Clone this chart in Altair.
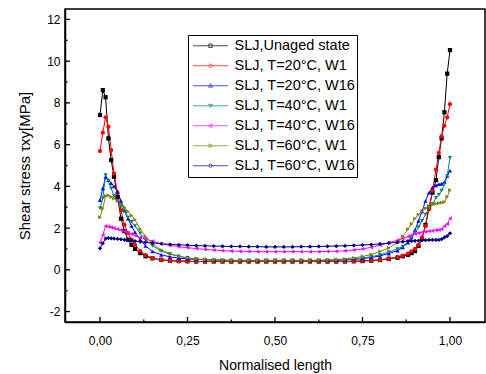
import altair as alt
import pandas as pd

# ---------------- data ----------------
x_left = [0, 0.008, 0.016, 0.024, 0.032, 0.04, 0.05, 0.06, 0.07, 0.08, 0.09, 0.1, 0.115, 0.13, 0.15]
x_mid = [0.175, 0.2, 0.225, 0.25, 0.275, 0.3, 0.325, 0.35, 0.375, 0.4, 0.425, 0.45, 0.475, 0.5,
         0.525, 0.55, 0.575, 0.6, 0.625, 0.65, 0.675, 0.7, 0.725, 0.75, 0.775, 0.8, 0.825]
x_right = [0.85, 0.865, 0.88, 0.89, 0.9, 0.91, 0.92, 0.93, 0.94, 0.95, 0.96, 0.968, 0.976, 0.984, 0.992, 1.0]
x_vals = x_left + x_mid + x_right

series_names = ["SLJ,Unaged state", "SLJ, T=20°C, W1", "SLJ, T=20°C, W16", "SLJ, T=40°C, W1",
                "SLJ, T=40°C, W16", "SLJ, T=60°C, W1", "SLJ, T=60°C, W16"]

unaged = ([7.42, 8.61, 8.27, 6.30, 5.26, 4.46, 3.50, 2.45, 1.85, 1.45, 1.20, 1.00, 0.80, 0.65, 0.55]
          + [0.48, 0.44, 0.42, 0.41] + [0.40] * 18 + [0.41, 0.42, 0.44, 0.47, 0.53]
          + [0.58, 0.65, 0.72, 0.80, 0.90, 1.15, 1.50, 2.15, 3.00, 3.70, 4.30, 5.40, 6.30, 7.55, 9.40, 10.53])
t20_w1 = ([5.69, 6.57, 7.31, 6.86, 5.74, 4.62, 3.70, 2.85, 2.15, 1.75, 1.45, 1.20, 0.90, 0.70, 0.56]
          + [0.48, 0.44, 0.42, 0.41] + [0.40] * 18 + [0.41, 0.43, 0.45, 0.48, 0.54]
          + [0.62, 0.68, 0.78, 0.88, 1.00, 1.20, 1.55, 2.10, 2.90, 3.80, 4.80, 5.60, 6.40, 6.90, 7.31, 7.94])
t20_w16 = ([3.34, 3.90, 4.45, 4.30, 4.15, 4.00, 3.75, 3.30, 2.85, 2.45, 2.10, 1.80, 1.45, 1.15, 0.88]
           + [0.72, 0.62, 0.56, 0.52, 0.50, 0.48, 0.47, 0.46] + [0.45] * 12
           + [0.46, 0.48, 0.50, 0.54, 0.59, 0.67, 0.78]
           + [0.92, 1.08, 1.30, 1.55, 1.90, 2.35, 2.80, 3.30, 3.70, 3.95, 4.05, 4.10, 4.12, 4.20, 4.50, 4.75])
t40_w1 = ([2.95, 3.43, 4.54, 4.25, 3.90, 3.55, 3.30, 3.05, 2.80, 2.50, 2.30, 2.10, 1.75, 1.45, 1.15]
          + [0.90, 0.75, 0.65, 0.57, 0.52, 0.49, 0.47, 0.46] + [0.45] * 12
          + [0.46, 0.48, 0.51, 0.56, 0.63, 0.72, 0.85]
          + [1.00, 1.12, 1.35, 1.55, 1.80, 2.05, 2.35, 2.65, 2.95, 3.15, 3.45, 3.60, 3.80, 4.10, 4.50, 5.37])
t40_w16 = ([1.30, 1.67, 2.10, 2.07, 2.04, 2.00, 1.95, 1.90, 1.85, 1.78, 1.72, 1.65, 1.55, 1.47, 1.38]
           + [1.25, 1.17, 1.11, 1.06, 1.02, 0.98, 0.95, 0.92, 0.90, 0.89, 0.88] + [0.87] * 8
           + [0.88, 0.89, 0.91, 0.95, 1.00, 1.08, 1.18, 1.30]
           + [1.42, 1.50, 1.60, 1.66, 1.72, 1.76, 1.80, 1.82, 1.85, 1.87, 1.90, 1.92, 1.95, 2.10, 2.20, 2.47])
t60_w1 = ([2.51, 2.95, 3.54, 3.57, 3.50, 3.42, 3.30, 3.15, 3.00, 2.80, 2.60, 2.40, 1.95, 1.60, 1.25]
          + [0.95, 0.78, 0.65, 0.57, 0.52, 0.49, 0.47, 0.46] + [0.45] * 10
          + [0.46, 0.47, 0.49, 0.52, 0.57, 0.64, 0.74, 0.88, 1.05]
          + [1.30, 1.60, 1.95, 2.20, 2.45, 2.65, 2.80, 2.95, 3.05, 3.12, 3.17, 3.20, 3.22, 3.25, 3.50, 3.82])
t60_w16 = ([1.03, 1.27, 1.50, 1.52, 1.51, 1.50, 1.48, 1.46, 1.44, 1.42, 1.40, 1.38, 1.35, 1.32, 1.29]
           + [1.25, 1.22, 1.20, 1.18, 1.16, 1.15, 1.14, 1.13, 1.12, 1.12, 1.11, 1.11, 1.10, 1.10,
              1.10, 1.10, 1.11, 1.11, 1.12, 1.13, 1.14, 1.15, 1.17, 1.19, 1.21, 1.24, 1.28]
           + [1.32, 1.35, 1.37, 1.38, 1.39, 1.40, 1.41, 1.42, 1.43, 1.43, 1.43, 1.44, 1.47, 1.55, 1.62, 1.75])

all_series = [unaged, t20_w1, t20_w16, t40_w1, t40_w16, t60_w1, t60_w16]

colors = ["#000000", "#FF0000", "#0000FF", "#008080", "#FF00FF", "#808000", "#000080"]
shapes = ["square", "circle", "triangle-up", "triangle-down", "triangle-left", "triangle-right", "diamond"]
LINE = "M-1,0L1,0"
legend_shapes = [
    LINE + "M-0.1,-0.1L0.1,-0.1L0.1,0.1L-0.1,0.1Z",
    LINE + "M-0.1,0A0.1,0.1,0,1,0,0.1,0A0.1,0.1,0,1,0,-0.1,0Z",
    LINE + "M0,-0.12L0.11,0.08L-0.11,0.08Z",
    LINE + "M0,0.12L0.11,-0.08L-0.11,-0.08Z",
    LINE + "M-0.12,0L0.08,-0.11L0.08,0.11Z",
    LINE + "M0.12,0L-0.08,-0.11L-0.08,0.11Z",
    LINE + "M0,-0.12L0.12,0L0,0.12L-0.12,0Z",
]

x_major = [0, 0.25, 0.5, 0.75, 1.0]
x_minor = [0.125, 0.375, 0.625, 0.875]
y_major = [-2, 0, 2, 4, 6, 8, 10, 12]
y_minor = [-1, 1, 3, 5, 7, 9, 11]

rows = []
for name, vals in zip(series_names, all_series):
    for xv, yv in zip(x_vals, vals):
        rows.append({"x": xv, "y": yv, "series": name})
df = pd.DataFrame(rows)

W, H = 420, 313
FONT = "Liberation Sans"

xscale = alt.Scale(domain=[-0.1, 1.1], nice=False, zero=False)
yscale = alt.Scale(domain=[-2.5, 12.5], nice=False, zero=False)

x_enc = alt.X("x:Q", scale=xscale, axis=alt.Axis(
    values=x_major, title="Normalised length", ticks=False, tickSize=0, grid=False,
    labelExpr="replace(format(datum.value, '.2f'), '.', ',')",
    labelPadding=13, labelFontSize=12, titleFontSize=14, titlePadding=12))
y_enc = alt.Y("y:Q", scale=yscale, axis=alt.Axis(
    values=y_major, title="Shear stress τxy[MPa]", ticks=False, tickSize=0, grid=False,
    labelExpr="datum.value < 0 ? '-' + abs(datum.value) : '' + datum.value",
    labelPadding=5, labelFontSize=12, titleFontSize=15, titlePadding=14))

color_plain = alt.Color("series:N", scale=alt.Scale(domain=series_names, range=colors), legend=None)

lines = alt.Chart(df).mark_line(strokeWidth=1).encode(
    x=x_enc, y=y_enc, color=color_plain, order=alt.Order("x:Q"))

points = alt.Chart(df).mark_point(filled=True, size=18, opacity=1).encode(
    x=alt.X("x:Q", scale=xscale), y=alt.Y("y:Q", scale=yscale), color=color_plain,
    shape=alt.Shape("series:N", scale=alt.Scale(domain=series_names, range=shapes), legend=None))

leg = alt.Legend(title=None, orient="none", legendX=123, legendY=26, strokeColor="black",
                 padding=1.5, clipHeight=18.5, rowPadding=1.0, symbolSize=1225, symbolOffset=3,
                 labelOffset=6, labelFontSize=14.5, labelFont=FONT, labelColor="black",
                 symbolStrokeWidth=1, labelLimit=400)

legend_layer = alt.Chart(df).transform_filter("false").mark_point(filled=False, size=1225, strokeWidth=1).encode(
    x=alt.X("x:Q", scale=xscale), y=alt.Y("y:Q", scale=yscale),
    color=alt.Color("series:N", scale=alt.Scale(domain=series_names, range=colors), legend=leg),
    shape=alt.Shape("series:N", scale=alt.Scale(domain=series_names, range=legend_shapes), legend=leg))

xt_major = alt.Chart(pd.DataFrame({"t": x_major})).mark_rule(color="black", strokeWidth=1.3).encode(
    x=alt.X("t:Q", scale=xscale), y=alt.value(H), y2=alt.value(H - 5))
xt_minor = alt.Chart(pd.DataFrame({"t": x_minor})).mark_rule(color="black", strokeWidth=1.3).encode(
    x=alt.X("t:Q", scale=xscale), y=alt.value(H), y2=alt.value(H - 2.5))
yt_major = alt.Chart(pd.DataFrame({"t": y_major})).mark_rule(color="black", strokeWidth=1.3).encode(
    y=alt.Y("t:Q", scale=yscale), x=alt.value(0), x2=alt.value(5))
yt_minor = alt.Chart(pd.DataFrame({"t": y_minor})).mark_rule(color="black", strokeWidth=1.3).encode(
    y=alt.Y("t:Q", scale=yscale), x=alt.value(0), x2=alt.value(2.5))

chart = alt.layer(lines, points, legend_layer, xt_major, xt_minor, yt_major, yt_minor).resolve_scale(
    color="independent", shape="independent"
).properties(
    width=W, height=H,
    autosize=alt.AutoSizeParams(type="none"),
    padding={"left": 65, "top": 9, "right": 1, "bottom": 52},
    background="white",
).configure_view(
    stroke="black", strokeWidth=1.5
).configure_axis(
    domainColor="black", domainWidth=1.5, labelFont=FONT, titleFont=FONT,
    labelColor="black", titleColor="black", titleFontWeight="normal"
)

chart.save("out.html", embed_options={"renderer": "svg", "actions": False})
